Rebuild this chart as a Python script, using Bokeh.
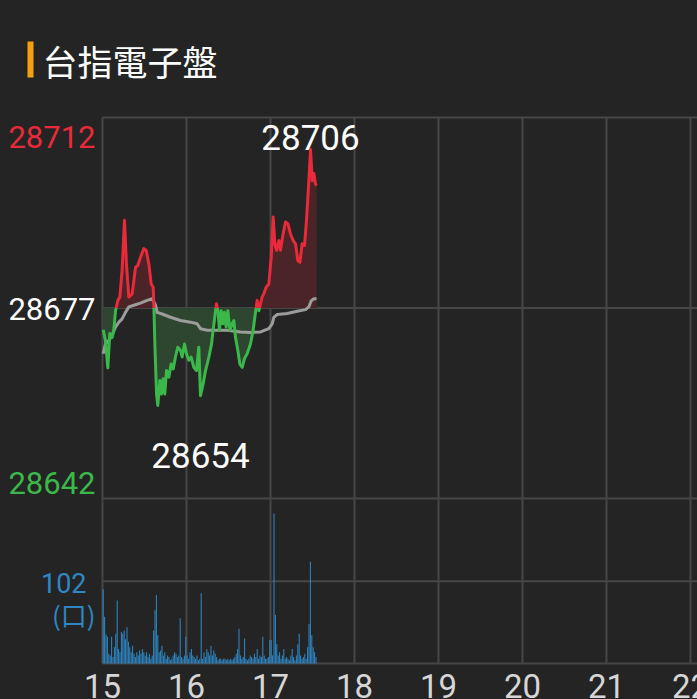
from bokeh.plotting import figure
from bokeh.models import Range1d, Label, BoxAnnotation
from bokeh.embed import file_html
from bokeh.resources import INLINE

# ---------------- data ----------------
title_text = "台指電子盤"
ref_price = 28677
top_price = 28712
bottom_price = 28642
high_mark = 28706
low_mark = 28654
vol_tick = 102
vol_unit = "(口)"
hour_ticks = [15, 16, 17, 18, 19, 20, 21, 22]

price_minutes = [0.5, 2.1, 3.8, 5.2, 6.9, 8.1, 9.3, 11.0, 12.4, 14.0, 15.7, 17.1, 18.8,
                 21.2, 23.6, 25.2, 27.1, 29.5, 31.2, 33.1, 34.8, 36.2, 36.7, 37.4, 38.6,
                 39.5, 41.0, 42.1, 43.3, 44.5, 45.7, 47.4, 49.0, 50.5, 52.1, 53.8, 55.7,
                 56.9, 58.6, 60.0, 61.7, 63.3, 65.2, 67.1, 68.8, 70.0, 71.9, 73.6, 76.0,
                 77.9, 79.0, 80.2, 81.4, 82.4, 83.6, 84.8, 86.0, 87.1, 88.3, 89.5, 91.0,
                 92.6, 93.8, 95.0, 96.7, 98.1, 99.8, 101.4, 103.3, 105.7, 107.6, 108.8,
                 110.5, 111.7, 112.9, 114.0, 115.2, 116.9, 118.8, 120.5, 121.9, 123.1,
                 124.3, 126.0, 127.1, 129.0, 130.7, 132.4, 134.3, 136.2, 137.9, 139.5,
                 141.0, 142.6, 144.3, 145.7, 147.4, 148.6, 149.8, 151.0, 152.1, 152.9]
price_values = [28673.0, 28671.0, 28666.0, 28672.3, 28671.6, 28673.0, 28676.5, 28678.4,
                28679.0, 28683.9, 28693.1, 28685.1, 28679.0, 28679.6, 28684.5, 28684.8,
                28686.3, 28687.9, 28687.6, 28685.1, 28681.4, 28680.8, 28677.2, 28670.4,
                28661.2, 28659.1, 28663.7, 28661.2, 28664.0, 28661.2, 28665.5, 28664.3,
                28666.7, 28665.8, 28668.0, 28669.8, 28669.2, 28668.0, 28670.4, 28668.6,
                28667.4, 28668.0, 28666.1, 28665.5, 28669.8, 28660.9, 28663.1, 28665.5,
                28668.0, 28670.4, 28672.9, 28675.3, 28677.8, 28676.5, 28672.9, 28676.5,
                28674.1, 28676.2, 28673.5, 28676.5, 28672.9, 28674.1, 28674.7, 28671.6,
                28669.2, 28666.7, 28666.1, 28667.7, 28668.6, 28670.4, 28672.9, 28675.3,
                28678.4, 28676.5, 28677.8, 28679.0, 28679.6, 28680.8, 28681.4, 28686.3,
                28693.7, 28688.8, 28687.6, 28689.4, 28687.6, 28690.6, 28692.8, 28692.5,
                28690.6, 28689.4, 28688.8, 28685.7, 28685.4, 28688.8, 28688.5, 28693.1,
                28700.4, 28706.1, 28700.4, 28701.7, 28699.8, 28699.5]

avg_minutes = [0.5, 2.1, 4.5, 6.9, 9.3, 11.7, 14.0, 16.4, 18.8, 22.4, 27.1, 31.9, 35.5,
               37.9, 39.0, 42.6, 48.6, 55.7, 62.9, 67.6, 70.0, 74.8, 89.0, 98.6, 105.7,
               112.9, 118.8, 121.2, 122.4, 124.8, 131.9, 139.0, 145.0, 147.4, 149.0,
               151.0, 152.9]
avg_values = [28668.6, 28670.4, 28671.0, 28672.0, 28673.5, 28674.4, 28675.0, 28676.2,
              28677.2, 28677.5, 28677.9, 28678.4, 28678.7, 28677.5, 28676.2, 28675.9,
              28675.3, 28674.7, 28674.4, 28674.1, 28673.2, 28672.9, 28672.9, 28672.6,
              28672.5, 28672.6, 28673.2, 28674.1, 28675.3, 28675.8, 28676.0, 28676.4,
              28676.7, 28677.2, 28678.3, 28678.7, 28678.7]

volume_values = [92, 58, 36, 33, 12, 10, 33, 8, 20, 37, 78, 18, 14, 39, 37, 41, 30, 45, 27, 20,
                 14, 22, 12, 8, 14, 10, 16, 12, 18, 14, 10, 14, 8, 12, 6, 10, 41, 66, 85, 35,
                 14, 16, 22, 10, 14, 6, 10, 8, 4, 6, 10, 14, 12, 8, 10, 56, 8, 6, 10, 33,
                 10, 6, 14, 18, 10, 8, 6, 10, 4, 6, 87, 6, 14, 8, 18, 14, 10, 22, 10, 16,
                 12, 8, 4, 6, 6, 4, 6, 6, 4, 6, 4, 6, 4, 6, 8, 12, 18, 43, 10, 6,
                 8, 31, 6, 4, 6, 10, 8, 6, 12, 8, 18, 6, 10, 8, 33, 10, 6, 6, 8, 29,
                 29, 10, 186, 60, 24, 10, 14, 6, 10, 18, 6, 8, 6, 4, 10, 18, 8, 4, 10, 24,
                 37, 10, 6, 8, 12, 6, 20, 49, 126, 35, 20, 14, 8]

# ---------------- styling / layout ----------------
BG = "#242424"
GRID = "#464646"
RED = "#EA2A3A"
GREEN = "#3BB84A"
RED_FILL = "#4b2428"
GREEN_FILL = "#2e4530"
AVG = "#9c9c9c"
BLUE = "#2E86C4"
NUM_FONT = "Roboto"
CJK_FONT = "Noto Sans CJK TC"

W, H = 697, 699
FRAME_L, FRAME_T = 102, 117          # page px of plot area
PRICE_BOTTOM_PX, FRAME_B = 498, 663
VOL_TICK_PX = 580.7
PX_PER_HOUR = 84.0

ppx = (top_price - bottom_price) / (PRICE_BOTTOM_PX - FRAME_T)   # price per px
vpx = vol_tick / (FRAME_B - VOL_TICK_PX)                          # volume per px


def xd(px):
    return hour_ticks[0] + (px - FRAME_L) / PX_PER_HOUR


def yd(py):
    return top_price - (py - FRAME_T) * ppx


p = figure(width=W, height=H, output_backend="svg", toolbar_location=None,
           x_range=Range1d(xd(0), xd(W)), y_range=Range1d(yd(H), yd(0)),
           x_axis_location=None, y_axis_location=None,
           min_border=0, min_border_left=0, min_border_right=0,
           min_border_top=0, min_border_bottom=0)
p.extra_y_ranges = {"vol": Range1d(-(H - FRAME_B) * vpx, FRAME_B * vpx)}
p.background_fill_color = BG
p.border_fill_color = BG
p.outline_line_color = None
p.outline_line_alpha = 0
p.xgrid.grid_line_color = None
p.ygrid.grid_line_color = None

x_end = xd(W + 20)
y_bottom_price = yd(FRAME_B)

# vertical grid lines
p.segment(x0=hour_ticks, y0=[y_bottom_price] * len(hour_ticks), x1=hour_ticks,
          y1=[top_price] * len(hour_ticks), line_color=GRID, line_width=2)
# horizontal grid lines (price panel)
hp = [top_price, ref_price, bottom_price]
p.segment(x0=[hour_ticks[0]] * 3, y0=hp, x1=[x_end] * 3, y1=hp, line_color=GRID,
          line_width=2)
# horizontal grid lines (volume panel)
hv = [vol_tick, 0]
p.segment(x0=[hour_ticks[0]] * 2, y0=hv, x1=[x_end] * 2, y1=hv, line_color=GRID,
          line_width=2, y_range_name="vol")

# ---- price line split at reference ----
xs = [hour_ticks[0] + m / 60 for m in price_minutes]
pts = []
for i in range(len(xs)):
    if i > 0:
        y0, y1 = price_values[i - 1], price_values[i]
        if (y0 - ref_price) * (y1 - ref_price) < 0:
            f = (ref_price - y0) / (y1 - y0)
            pts.append((xs[i - 1] + f * (xs[i] - xs[i - 1]), ref_price))
    pts.append((xs[i], price_values[i]))

px_ = [a for a, b in pts]
py_ = [b for a, b in pts]
p.varea(x=px_, y1=[ref_price] * len(py_), y2=[max(v, ref_price) for v in py_],
        fill_color=RED_FILL)
p.varea(x=px_, y1=[ref_price] * len(py_), y2=[min(v, ref_price) for v in py_],
        fill_color=GREEN_FILL)

# average line
p.line([hour_ticks[0] + m / 60 for m in avg_minutes], avg_values, line_color=AVG,
       line_width=3, line_join="round")

runs = {True: ([], []), False: ([], [])}
cur_side, cur_x, cur_y = None, [], []
for i in range(1, len(pts)):
    (a0, b0), (a1, b1) = pts[i - 1], pts[i]
    side = (b0 + b1) / 2 >= ref_price
    if side != cur_side:
        if cur_side is not None:
            runs[cur_side][0].append(cur_x)
            runs[cur_side][1].append(cur_y)
        cur_side, cur_x, cur_y = side, [a0], [b0]
    cur_x.append(a1)
    cur_y.append(b1)
runs[cur_side][0].append(cur_x)
runs[cur_side][1].append(cur_y)

p.multi_line(runs[False][0], runs[False][1], line_color=GREEN, line_width=3,
             line_join="round")
p.multi_line(runs[True][0], runs[True][1], line_color=RED, line_width=3,
             line_join="round")

# ---- volume ----
vx = [hour_ticks[0] + (i + 0.5) / 60 for i in range(len(volume_values))]
p.vbar(x=vx, top=volume_values, bottom=0, width=0.75 / 60, y_range_name="vol",
       fill_color=BLUE, line_color=None)


# ---- texts ----
def lab(text, px, py, color, size, align, font=NUM_FONT):
    p.add_layout(Label(x=xd(px), y=yd(py), text=text, text_color=color,
                       text_font_size=size, text_align=align, text_baseline="middle",
                       text_font=font))


p.add_layout(BoxAnnotation(left=xd(27), right=xd(33), top=yd(41), bottom=yd(77),
                           fill_color="#F5A10F", fill_alpha=1.0, line_color=None))
lab(title_text, 42, 60, "#FFFFFF", "35px", "left", CJK_FONT)

lab(str(top_price), 95, 136, RED, "31px", "right")
lab(str(ref_price), 95, 308, "#FFFFFF", "31px", "right")
lab(str(bottom_price), 95, 482, GREEN, "31px", "right")
lab(str(vol_tick), 86, 582, BLUE, "27px", "right")
lab(vol_unit, 95, 614, BLUE, "26px", "right", CJK_FONT)
lab(str(high_mark), 310, 137, "#FFFFFF", "35px", "center")
lab(str(low_mark), 200, 455, "#FFFFFF", "35px", "center")

for h in hour_ticks:
    lab(str(h), FRAME_L + (h - hour_ticks[0]) * PX_PER_HOUR, 685, "#D6D6D6", "33px",
        "center")

html = file_html(p, INLINE)
html = html.replace("</head>",
                    "<style>html,body{background:#242424;margin:0;overflow:hidden;}</style></head>", 1)
open("out.html", "w").write(html)
